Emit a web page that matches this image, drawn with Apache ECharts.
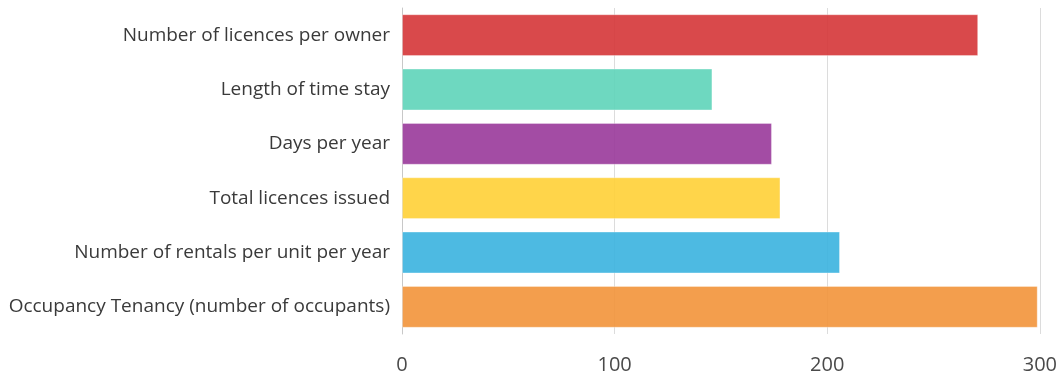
<!DOCTYPE html>
<html>
<head>
<meta charset="utf-8">
<script src="https://cdn.jsdelivr.net/npm/echarts@6/dist/echarts.min.js"></script>
<style>
  html, body { margin: 0; padding: 0; background: #fff; }
  #chart { width: 1060px; height: 379px; }
</style>
</head>
<body>
<div id="chart"></div>
<script>
// Categories listed bottom to top (category axis on y starts at the bottom)
const categories = [
  'Occupancy Tenancy (number of occupants)',
  'Number of rentals per unit per year',
  'Total licences issued',
  'Days per year',
  'Length of time stay',
  'Number of licences per owner'
];
const values = [299, 206, 178, 174, 146, 271];
const barColors = ['#f2943a', '#3ab3df', '#ffd036', '#99389a', '#5ed4b9', '#d53537'];
const xTicks = [0, 100, 200, 300];

const chart = echarts.init(document.getElementById('chart'), null, { renderer: 'canvas' });

chart.setOption({
  animation: false,
  grid: { left: 402, right: 18, top: 8, bottom: 45, containLabel: false },
  xAxis: {
    type: 'value',
    min: xTicks[0],
    max: xTicks[xTicks.length - 1],
    interval: 100,
    axisLine: { show: false },
    axisTick: { show: false },
    axisLabel: {
      color: '#4a4a4a',
      fontSize: 20,
      fontFamily: 'Open Sans',
      margin: 21
    },
    splitLine: { show: true, lineStyle: { color: '#dcdcdc', width: 1 } }
  },
  yAxis: {
    type: 'category',
    data: categories,
    axisLine: { show: true, lineStyle: { color: '#c8c8c8', width: 1 } },
    axisTick: { show: false },
    axisLabel: {
      color: '#3a3a3a',
      fontSize: 19,
      fontFamily: 'Open Sans',
      margin: 12
    }
  },
  series: [{
    type: 'bar',
    data: values.map((v, i) => ({
      value: v,
      itemStyle: {
        color: barColors[i],
        opacity: 0.9,
        borderColor: 'rgba(255,255,255,0.35)',
        borderWidth: 1
      }
    })),
    barCategoryGap: '23%'
  }]
});
</script>
</body>
</html>
